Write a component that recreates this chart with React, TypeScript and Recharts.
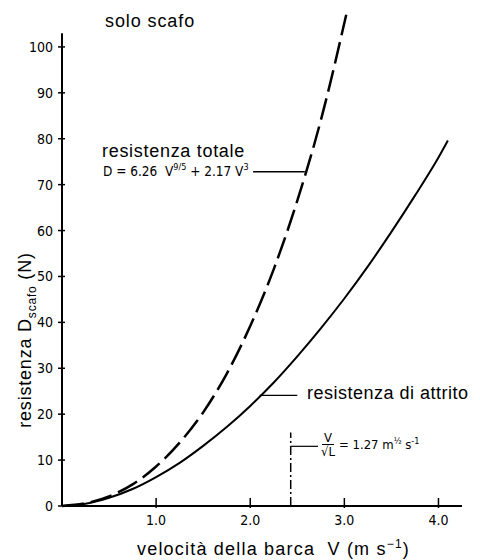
import { LineChart, Line, XAxis, YAxis, ReferenceLine } from "recharts";

// velocità della barca V (m/s) e resistenza (N)
const velocita = [0, 0.25, 0.5, 0.75, 1.0, 1.25, 1.5, 1.75, 2.0, 2.25, 2.5, 2.75, 3.0, 3.25, 3.5, 3.75, 4.0, 4.1];
const attrito = [0, 0.5, 1.8, 3.7, 6.3, 9.4, 13.1, 17.2, 21.8, 26.9, 32.6, 38.7, 45.2, 52.2, 59.7, 67.6, 75.9, 79.6];
const velocitaTot = [0, 0.25, 0.5, 0.75, 1.0, 1.25, 1.5, 1.75, 2.0, 2.25, 2.5, 2.75, 3.02];
const totale = [0, 0.6, 2.1, 4.7, 8.6, 13.8, 20.4, 28.8, 39.2, 51.6, 66.5, 84, 107];

const xTicks = [1, 2, 3, 4];
const yTicks = [0, 10, 20, 30, 40, 50, 60, 70, 80, 90, 100];
const vSuRadiceL = 2.43;

const attritoData = velocita.map((v, i) => ({ v, d: attrito[i] }));
const totaleData = velocitaTot.map((v, i) => ({ v, d: totale[i] }));

const tickFont = '"DejaVu Sans Condensed", "DejaVu Sans", sans-serif';
const labelFont = '"Liberation Sans", Arial, sans-serif';

function XTick({ x, y, payload }: any) {
  return (
    <g>
      <line x1={x} x2={x} y1={y - 8} y2={y + 2} stroke="#000" strokeWidth={1.5} />
      <text x={x} y={y + 19} textAnchor="middle" fontSize={14} fontFamily={tickFont} fill="#000">
        {payload.value.toFixed(1)}
      </text>
    </g>
  );
}

function YTick({ x, y, payload }: any) {
  return (
    <g>
      <line x1={x - 4} x2={x + 3} y1={y} y2={y} stroke="#000" strokeWidth={1.5} />
      <text x={x - 9} y={y + 5} textAnchor="end" fontSize={14} fontFamily={tickFont} fill="#000">
        {payload.value}
      </text>
    </g>
  );
}

const abs = (left: number, top: number, extra: any = {}) => ({
  position: "absolute" as const,
  left,
  top,
  fontFamily: labelFont,
  color: "#000",
  whiteSpace: "nowrap" as const,
  lineHeight: 1,
  ...extra,
});

export default function App() {
  return (
    <div style={{ position: "absolute", left: 0, top: 0, width: 480, height: 560, background: "#fff" }}>
      <LineChart width={480} height={560} data={attritoData} margin={{ top: 1, right: 18, bottom: 24, left: 12 }}>
        <XAxis
          dataKey="v"
          type="number"
          domain={[0, 4.25]}
          ticks={xTicks}
          tick={<XTick />}
          tickSize={0}
          tickMargin={0}
          tickLine={false}
          height={30}
          axisLine={{ stroke: "#000", strokeWidth: 2 }}
        />
        <YAxis
          type="number"
          domain={[0, 110]}
          ticks={yTicks}
          tick={<YTick />}
          tickSize={0}
          tickMargin={0}
          tickLine={false}
          width={50}
          axisLine={false}
        />
        <ReferenceLine segment={[{ x: 0, y: 0 }, { x: 0, y: 103 }]} stroke="#000" strokeWidth={2} />
        <Line data={attritoData} dataKey="d" type="monotone" stroke="#000" strokeWidth={2} dot={false} isAnimationActive={false} />
        <Line
          data={totaleData}
          dataKey="d"
          type="monotone"
          stroke="#000"
          strokeWidth={2.5}
          strokeDasharray="22 7"
          dot={false}
          isAnimationActive={false}
        />
        {/* linee di richiamo */}
        <ReferenceLine segment={[{ x: 2.03, y: 72.8 }, { x: 2.58, y: 72.8 }]} stroke="#000" strokeWidth={1.5} />
        <ReferenceLine segment={[{ x: 2.1, y: 24.1 }, { x: 2.5, y: 24.1 }]} stroke="#000" strokeWidth={1.2} />
        <ReferenceLine
          segment={[{ x: vSuRadiceL, y: 0 }, { x: vSuRadiceL, y: 16 }]}
          stroke="#000"
          strokeWidth={1.5}
          strokeDasharray="9 3 2 3"
        />
        <ReferenceLine segment={[{ x: vSuRadiceL, y: 13 }, { x: 2.72, y: 13 }]} stroke="#000" strokeWidth={1.2} />
      </LineChart>

      <div style={abs(105, 12, { fontSize: 18, letterSpacing: 0.9 })}>solo scafo</div>
      <div style={abs(102, 142, { fontSize: 18, letterSpacing: 0.7 })}>resistenza totale</div>
      <div style={abs(103, 163, { fontSize: 13.5, fontFamily: tickFont })}>
        D = 6.26&nbsp; V<sup style={{ fontSize: 9 }}>9/5</sup> + 2.17 V<sup style={{ fontSize: 9 }}>3</sup>
      </div>
      <div style={abs(307, 384, { fontSize: 18, letterSpacing: 0.5 })}>resistenza di attrito</div>
      <div style={abs(321, 431, { fontSize: 13, fontFamily: tickFont, display: "flex", alignItems: "center" })}>
        <span style={{ display: "inline-flex", flexDirection: "column", alignItems: "center", marginRight: 4 }}>
          <span style={{ borderBottom: "1px solid #000", padding: "0 2px" }}>V</span>
          <span>√L</span>
        </span>
        <span>
          = 1.27 m<sup style={{ fontSize: 9 }}>½</sup> s<sup style={{ fontSize: 9 }}>-1</sup>
        </span>
      </div>
      <div style={abs(137, 538, { fontSize: 18, letterSpacing: 1.2 })}>
        velocità della barca&nbsp; V (m s<sup style={{ fontSize: 12 }}>−1</sup>)
      </div>
      <div
        style={abs(27, 340, {
          fontSize: 18,
          letterSpacing: 0.8,
          transform: "translate(-50%, -50%) rotate(-90deg)",
        })}
      >
        resistenza D<sub style={{ fontSize: 12 }}>scafo</sub> (N)
      </div>
    </div>
  );
}
